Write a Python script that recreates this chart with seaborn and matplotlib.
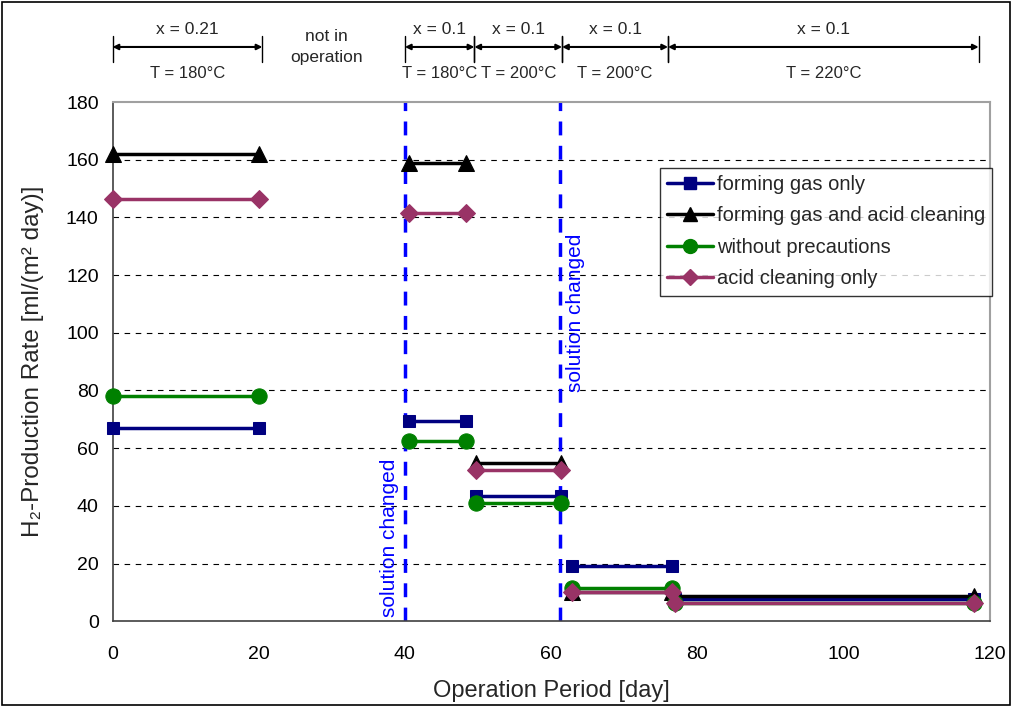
import pandas as pd
import matplotlib.pyplot as plt
import seaborn as sns
from matplotlib.lines import Line2D
from matplotlib.patches import Rectangle

# segment boundaries (day) for each operating condition
seg_start = [0, 40.5, 49.7, 62.8, 77.0]
seg_end = [20, 48.3, 61.4, 76.6, 117.8]

series_names = ["forming gas only", "forming gas and acid cleaning",
                "without precautions", "acid cleaning only"]
fg_only = [67, 69.5, 43.5, 19, 7.8]
fg_acid = [162, 159, 55, 10.3, 8.8]
no_prec = [78, 62.5, 41, 11.5, 6.3]
acid_only = [146.5, 141.5, 52.5, 10.2, 6.3]

# top annotation bars
span_lo = [0, 40, 49.5, 61.5, 76]
span_hi = [20.5, 49.5, 61.5, 76, 118.5]
x_labels = ["x = 0.21", "x = 0.1", "x = 0.1", "x = 0.1", "x = 0.1"]
t_labels = ["T = 180°C", "T = 180°C", "T = 200°C", "T = 200°C", "T = 220°C"]
solution_changed = [40, 61.2]

rows = []
for name, vals in zip(series_names, [fg_only, fg_acid, no_prec, acid_only]):
    for i, v in enumerate(vals):
        rows.append({"day": seg_start[i], "rate": v, "series": name, "seg": i})
        rows.append({"day": seg_end[i], "rate": v, "series": name, "seg": i})
df = pd.DataFrame(rows)

sns.set_style("white")
plt.rcParams['font.family'] = ['Liberation Sans', 'DejaVu Sans']

colors = {"forming gas only": "#000080", "forming gas and acid cleaning": "#000000",
          "without precautions": "#008000", "acid cleaning only": "#993366"}
markers = {"forming gas only": "s", "forming gas and acid cleaning": "^",
           "without precautions": "o", "acid cleaning only": "D"}
msize = {"forming gas only": 9, "forming gas and acid cleaning": 11,
         "without precautions": 11, "acid cleaning only": 9}

fig = plt.figure(figsize=(10.14, 7.06), dpi=100)
ax = fig.add_axes([0.111, 0.120, 0.865, 0.7355])

for name in series_names:
    sub = df[df["series"] == name]
    sns.lineplot(data=sub, x="day", y="rate", units="seg", estimator=None,
                 color=colors[name], marker=markers[name], markersize=msize[name],
                 markeredgecolor=colors[name], linewidth=2.5, ax=ax,
                 legend=False, clip_on=False, zorder=3)

ax.set_xlim(0, 120)
ax.set_ylim(0, 180)
ax.set_xticks(range(0, 121, 20))
ax.set_yticks(range(0, 181, 20))
ax.tick_params(axis='x', direction='out', length=6, width=1, pad=12, labelsize=14,
               colors='#404040', labelcolor='black')
ax.tick_params(axis='y', direction='inout', length=8, width=1, pad=6, labelsize=14,
               colors='#404040', labelcolor='black')
for y in range(20, 180, 20):
    ax.axhline(y, color='black', lw=0.8, ls=(0, (5, 5)), zorder=1)
for s in ['top', 'right']:
    ax.spines[s].set_color('#a0a0a0')
    ax.spines[s].set_linewidth(1.5)
for s in ['left', 'bottom']:
    ax.spines[s].set_color('#404040')
    ax.spines[s].set_linewidth(1.2)

ax.set_xlabel("Operation Period [day]", fontsize=17, labelpad=12)
ax.set_ylabel("H₂-Production Rate [ml/(m² day)]", fontsize=17.5, labelpad=16)

for xv in solution_changed:
    ax.plot([xv, xv], [0, 180], color='#0000ff', lw=2.5, ls=(0, (4, 3)), zorder=2)
ax.text(39.2, 1.5, "solution changed", rotation=90, color='#0000ff', fontsize=15,
        ha='right', va='bottom')
ax.text(62.0, 107, "solution changed", rotation=90, color='#0000ff', fontsize=15,
        ha='left', va='center')

tr = ax.get_xaxis_transform()
for lo, hi, xl, tl in zip(span_lo, span_hi, x_labels, t_labels):
    ax.annotate("", xy=(lo, 1.106), xytext=(hi, 1.106), xycoords=tr, textcoords=tr,
                arrowprops=dict(arrowstyle='<|-|>', color='black', lw=1.5,
                                shrinkA=0, shrinkB=0, mutation_scale=8))
    for xv in (lo, hi):
        ax.plot([xv, xv], [1.078, 1.128], transform=tr, color='black', lw=1, clip_on=False)
    mid = (lo + hi) / 2
    ax.text(mid, 1.14, xl, transform=tr, ha='center', va='center', fontsize=12.5)
    ax.text(mid, 1.055, tl, transform=tr, ha='center', va='center', fontsize=12)
ax.text(29.3, 1.106, "not in\noperation", transform=tr, ha='center', va='center',
        fontsize=12.5, linespacing=1.5)

handles = [Line2D([0], [0], color=colors[n], marker=markers[n], markersize=msize[n] - 1,
                  lw=2.5) for n in series_names]
leg = ax.legend(handles, series_names, loc='upper right', bbox_to_anchor=(1.003, 0.873),
                fontsize=14.5, frameon=True, fancybox=False, handlelength=2.3,
                handletextpad=0.2, borderpad=0.35, labelspacing=0.62, borderaxespad=0)
leg.get_frame().set_edgecolor('black')
leg.get_frame().set_linewidth(1)

fig.patches.append(Rectangle((0.002, 0.002), 0.994, 0.995, transform=fig.transFigure,
                             fill=False, edgecolor='black', lw=1.2))

fig.savefig("out.png", dpi=100)
